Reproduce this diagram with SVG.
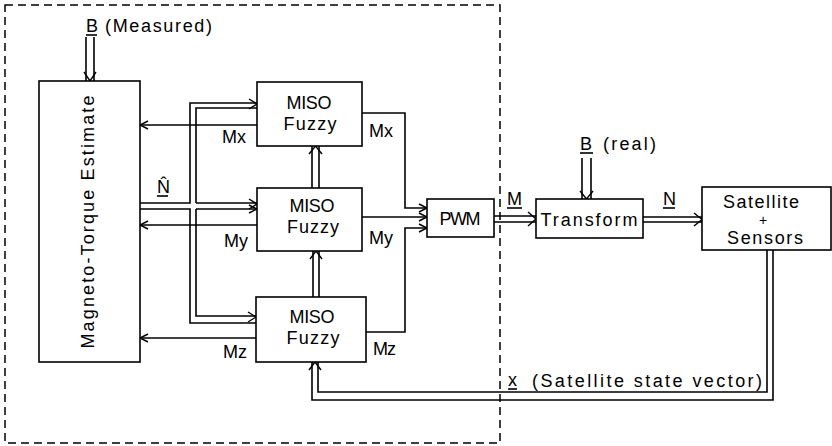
<svg xmlns="http://www.w3.org/2000/svg" width="832" height="446" viewBox="0 0 832 446">
<style>
  .box { fill: #fff; stroke: #000; stroke-width: 1.6; }
  .ln { fill: none; stroke: #000; stroke-width: 1.6; }
  .ah { fill: none; stroke: #000; stroke-width: 1.4; }
  .dash { fill: none; stroke: #000; stroke-width: 1.5; stroke-dasharray: 8 5; }
  text { font-family: "Liberation Sans", "DejaVu Sans", Arial, sans-serif; font-size: 18px; fill: #000; }
  .c { text-anchor: middle; }
</style>
<rect width="832" height="446" fill="#fff"/>

<g id="controller-boundary">
  <rect class="dash" x="5" y="5" width="495" height="438"/>
</g>

<g id="connectors">
  <!-- B measured into estimator -->
  <path class="ln" d="M86,37 V81 M94,37 V81"/>
  <path class="ah" d="M84,72 L90,81 L96,72"/>
  <!-- N-hat bus -->
  <path class="ln" d="M140,203 H190 V103 H257"/>
  <path class="ln" d="M196,203 H257"/>
  <path class="ln" d="M196,203 V108 H257"/>
  <path class="ln" d="M140,209 H190 V323 H256"/>
  <path class="ln" d="M196,209 H257"/>
  <path class="ln" d="M196,209 V316 H256"/>
  <path class="ah" d="M249,99 L257,104 L249,109"/>
  <path class="ah" d="M249,199 L257,204 L249,209"/>
  <path class="ah" d="M249,205 L257,209 L249,213"/>
  <path class="ah" d="M248,312 L256,317 L248,322"/>
  <!-- feedback to estimator -->
  <path class="ln" d="M257,125 H140"/>
  <path class="ah" d="M148,121 L140,125 L148,129"/>
  <path class="ln" d="M257,225 H140"/>
  <path class="ah" d="M148,221 L140,225 L148,229"/>
  <path class="ln" d="M256,338 H140"/>
  <path class="ah" d="M148,334 L140,338 L148,342"/>
  <!-- vertical links between MISO boxes -->
  <path class="ln" d="M312,188 V146 M319,188 V146"/>
  <path class="ah" d="M309,154 L315.5,146 L322,154"/>
  <path class="ln" d="M313,297 V251 M319,297 V251"/>
  <path class="ah" d="M310,259 L316,251 L322,259"/>
  <!-- MISO outputs to PWM -->
  <path class="ln" d="M362,113 H405 V208 H427"/>
  <path class="ah" d="M419,204 L427,208 L419,212"/>
  <path class="ln" d="M362,217 H427"/>
  <path class="ah" d="M419,213 L427,217 L419,221"/>
  <path class="ln" d="M366,332 H405 V228 H427"/>
  <path class="ah" d="M419,224 L427,228 L419,232"/>
  <!-- PWM to Transform -->
  <path class="ln" d="M494,216 H536 M494,222 H536"/>
  <path class="ah" d="M528,212 L536,219 L528,226"/>
  <!-- B real into Transform -->
  <path class="ln" d="M582,158 V199 M591,158 V199"/>
  <path class="ah" d="M580,191 L586.5,199 L593,191"/>
  <!-- Transform to Satellite -->
  <path class="ln" d="M643,217 H702 M643,222 H702"/>
  <path class="ah" d="M694,213 L702,219.5 L694,226"/>
  <!-- state feedback -->
  <path class="ln" d="M773,250 V400 H312 V362"/>
  <path class="ln" d="M767,250 V392 H318 V362"/>
  <path class="ah" d="M309,370 L315,362 L321,370"/>
</g>

<g id="b-measured-label">
  <text x="86" y="32" textLength="11">B</text>
  <path class="ln" d="M86,35 H97" stroke-width="1.3"/>
  <text x="105" y="32" textLength="107" lengthAdjust="spacing">(Measured)</text>
</g>

<g id="magneto-torque-estimate">
  <rect class="box" x="39" y="81" width="101" height="281"/>
  <text class="c" transform="translate(94,222) rotate(-90)" textLength="253" lengthAdjust="spacing">Magneto-Torque Estimate</text>
</g>

<g id="nhat-label">
  <text x="157" y="193">N̂</text>
  <path class="ln" d="M157,196 H168" stroke-width="1.3"/>
</g>

<g id="miso-x">
  <rect class="box" x="257" y="82" width="105" height="64"/>
  <text class="c" x="309" y="109" textLength="45">MISO</text>
  <text class="c" x="310" y="130" textLength="53">Fuzzy</text>
  <text x="222" y="143" textLength="24">Mx</text>
  <text x="369" y="137" textLength="24">Mx</text>
</g>

<g id="miso-y">
  <rect class="box" x="257" y="188" width="105" height="63"/>
  <text class="c" x="312" y="212" textLength="45">MISO</text>
  <text class="c" x="313" y="233" textLength="52">Fuzzy</text>
  <text x="224" y="247" textLength="24">My</text>
  <text x="369" y="244" textLength="24">My</text>
</g>

<g id="miso-z">
  <rect class="box" x="256" y="297" width="110" height="65"/>
  <text class="c" x="312" y="323" textLength="45">MISO</text>
  <text class="c" x="313" y="344" textLength="53">Fuzzy</text>
  <text x="223" y="358" textLength="24">Mz</text>
  <text x="373" y="355" textLength="23">Mz</text>
</g>

<g id="pwm">
  <rect class="box" x="427" y="199" width="67" height="38"/>
  <text class="c" x="460" y="225" textLength="41">PWM</text>
</g>

<g id="m-label">
  <text x="507" y="205" textLength="15">M</text>
  <path class="ln" d="M507,208 H522" stroke-width="1.3"/>
</g>

<g id="transform">
  <rect class="box" x="536" y="199" width="107" height="39"/>
  <text class="c" x="589" y="226" textLength="97" lengthAdjust="spacing">Transform</text>
</g>

<g id="b-real-label">
  <text x="580" y="150" textLength="12">B</text>
  <path class="ln" d="M580,153 H593" stroke-width="1.3"/>
  <text x="603" y="150" textLength="53" lengthAdjust="spacing">(real)</text>
</g>

<g id="n-label">
  <text x="663" y="205" textLength="12">N</text>
  <path class="ln" d="M663,208 H675" stroke-width="1.3"/>
</g>

<g id="satellite-sensors">
  <rect class="box" x="702" y="187" width="129" height="63"/>
  <text class="c" x="761" y="208" textLength="76" lengthAdjust="spacing">Satellite</text>
  <text class="c" x="763" y="225" style="font-size:14px">+</text>
  <text class="c" x="765" y="244" textLength="76" lengthAdjust="spacing">Sensors</text>
</g>

<g id="x-label">
  <text x="508" y="386" textLength="9">x</text>
  <path class="ln" d="M508,389 H517" stroke-width="1.3"/>
  <text x="532" y="387" textLength="230" lengthAdjust="spacing">(Satellite state vector)</text>
</g>
</svg>
